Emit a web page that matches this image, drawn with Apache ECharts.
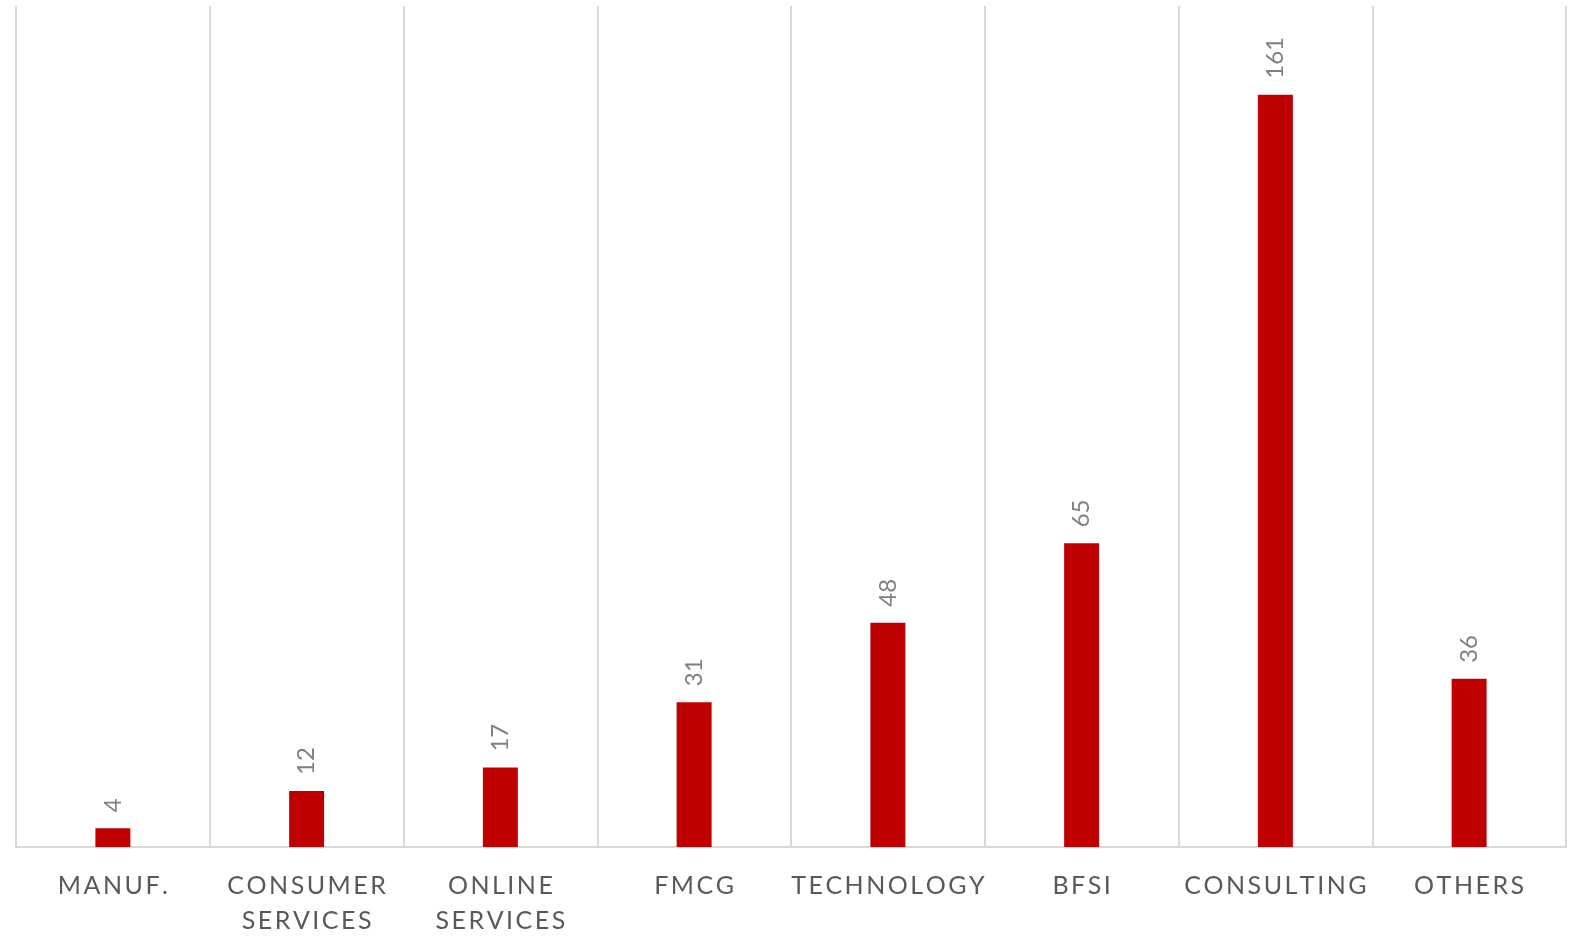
<!DOCTYPE html>
<html>
<head>
<meta charset="utf-8">
<script src="https://cdn.jsdelivr.net/npm/echarts@6/dist/echarts.min.js"></script>
<style>
  html, body { margin: 0; padding: 0; background: #ffffff; }
  #chart { width: 1577px; height: 938px; }
</style>
</head>
<body>
<div id="chart"></div>
<script>
// Sector names along the bottom axis
const categories = ['MANUF.', 'CONSUMER SERVICES', 'ONLINE SERVICES', 'FMCG', 'TECHNOLOGY', 'BFSI', 'CONSULTING', 'OTHERS'];
// Count per sector
const counts = [4, 12, 17, 31, 48, 65, 161, 36];
// Value axis range
const valueMax = 180;

// Spread letters apart with fixed-width gaps and put each word on its own line
function spaced(text) {
  return text.split(' ')
    .map(w => w.split('').map(c => '{t|' + c + '}').join('{sp|\u2009}'))
    .join('\n');
}

const chart = echarts.init(document.getElementById('chart'));
chart.setOption({
  animation: false,
  backgroundColor: '#ffffff',
  grid: { left: 16, right: 11, top: 6, bottom: 83, containLabel: false },
  xAxis: {
    type: 'category',
    data: categories,
    boundaryGap: true,
    axisLine: { show: true, lineStyle: { color: '#d9d9d9', width: 2 } },
    axisTick: { show: false },
    splitLine: { show: true, lineStyle: { color: '#d9d9d9', width: 2 } },
    axisLabel: {
      interval: 0,
      margin: 21,
      color: '#595959',
      fontFamily: 'Lato',
      fontSize: 25,
      lineHeight: 35,
      formatter: v => spaced(v),
      rich: {
        t: { color: '#595959', fontFamily: 'Lato', fontSize: 25, lineHeight: 35 },
        sp: { fontFamily: 'Lato', fontSize: 20, lineHeight: 35 }
      }
    }
  },
  yAxis: {
    type: 'value',
    min: 0,
    max: valueMax,
    show: false,
    splitLine: { show: false }
  },
  series: [{
    type: 'bar',
    data: counts,
    barWidth: 35,
    itemStyle: { color: '#c00000' },
    label: {
      show: true,
      position: 'top',
      rotate: 90,
      align: 'left',
      verticalAlign: 'middle',
      distance: 16,
      color: '#808080',
      fontFamily: 'Lato',
      fontSize: 24
    }
  }]
});
</script>
</body>
</html>
